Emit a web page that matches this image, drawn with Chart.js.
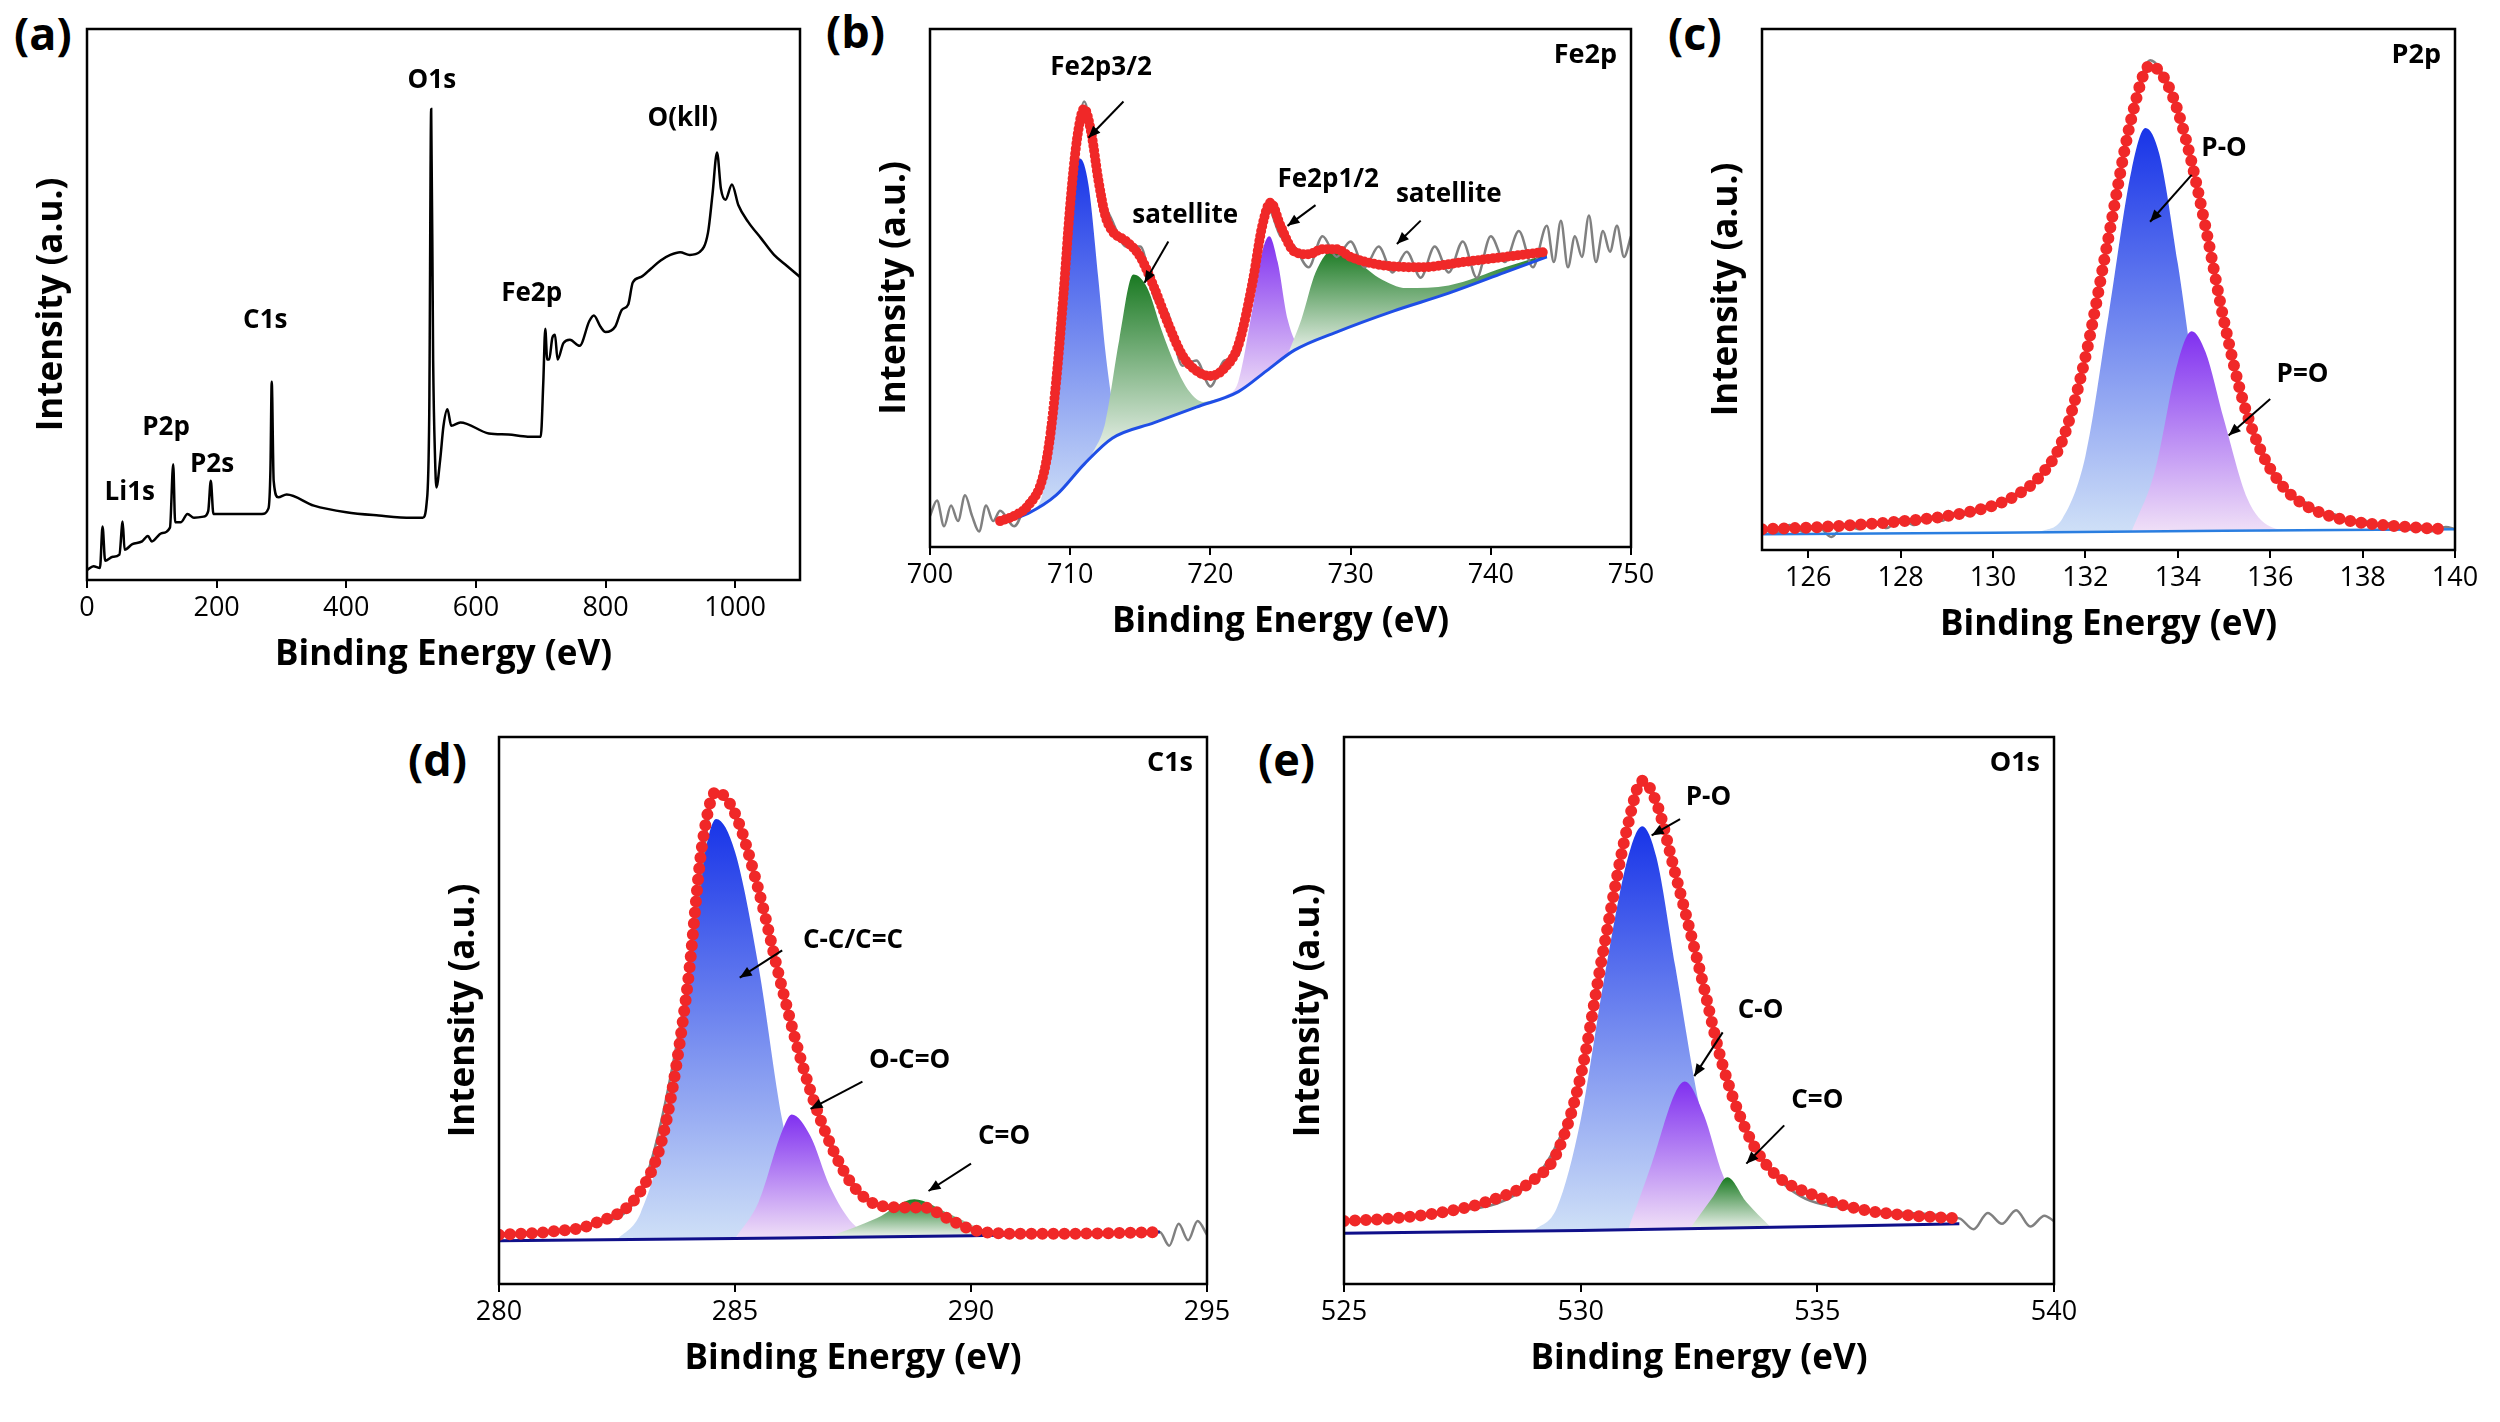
<!DOCTYPE html>
<html><head><meta charset="utf-8">
<script src="https://cdn.jsdelivr.net/npm/chart.js@4"></script>
<style>
body{margin:0;background:#fff;width:2500px;height:1422px;position:relative;overflow:hidden;font-family:"Open Sans",Arial,sans-serif}
canvas{position:absolute}
.lbl{position:absolute;font-weight:bold;font-size:45px;font-family:"Open Sans",Arial,sans-serif}
</style></head><body>
<div class="lbl" style="left:14px;top:2px">(a)</div>
<div class="lbl" style="left:826px;top:0px">(b)</div>
<div class="lbl" style="left:1668px;top:2px">(c)</div>
<div class="lbl" style="left:408px;top:728px">(d)</div>
<div class="lbl" style="left:1258px;top:728px">(e)</div>
<canvas id="ca"></canvas><canvas id="cb"></canvas><canvas id="cc"></canvas><canvas id="cd"></canvas><canvas id="ce"></canvas>
<script>
// ---------- data ----------
const ticksA=[0,200,400,600,800,1000];
const ticksB=[700,710,720,730,740,750];
const ticksC=[126,128,130,132,134,136,138,140];
const ticksD=[280,285,290,295];
const ticksE=[525,530,535,540];

const surveyA=[[0,1.8],[10,2.5],[20,2.2],[24,9.7],[28,3.5],[40,4.2],[50,4.6],[55,10.6],[58,5.5],[70,6.5],[85,7],[94,8],[100,7],[115,8.5],[128,9.5],[133,21],[136,10.5],[145,10.5],[155,12],[165,11.3],[180,11.5],[187,12.5],[191,18],[195,12],[205,12],[240,12],[270,12],[280,13],[283,20],[285,36],[288,18],[295,15],[308,15.5],[350,13.5],[400,12.3],[450,11.7],[500,11.3],[518,11.3],[524,14],[528,30],[531,85.5],[534,40],[537,22],[539,16.8],[545,22],[550,28],[556,31],[562,28],[576,28.6],[620,26.6],[650,26.4],[680,26],[700,26],[704,36],[707,45.6],[710,40],[713,40],[718,44],[722,44.5],[726,40],[735,43],[745,43.6],[760,42.5],[775,47],[782,48],[792,46],[800,45],[815,46],[825,49],[835,50],[842,54],[855,55],[870,56.5],[885,58],[900,59],[915,59.5],[930,59],[945,59.5],[958,63],[965,70],[972,77.6],[978,71],[985,69],[995,71.8],[1005,68],[1020,65],[1040,62],[1060,59],[1080,57],[1100,55]];

const baseB=[[705,4.6],[707,6.5],[709,10],[711,16],[713,21],[716,24],[719,27],[722,30],[724,34],[726,38],[729,41.5],[733,45.5],[737,49],[741,53],[744,56]];
const fitB=[[705,5],[706,6],[707,8],[708,13],[708.5,20],[709,32],[709.5,48],[710,66],[710.5,79],[711,84.6],[711.5,80],[712,71],[712.5,64],[713,61],[714,59],[715,56],[716,50],[717,43],[718,37],[719,34],[720,33],[721,34.5],[722,39],[723,51],[723.7,62],[724.3,66.5],[725,62],[726,57],[727,56.5],[728,57.5],[729,57.5],[730,56],[732,54.5],[735,54],[738,55],[741,56],[744,57]];
const rawB=[[700,6],[700.5,9],[701,4],[701.5,8],[702,5],[702.5,10],[703,6],[703.5,3],[704,8],[704.5,5],[705,7],[706,4],[707,9],[708,12],[709,33],[710,64],[711,86],[712,70],[713,63],[714,58],[715,58],[716,48],[717,45],[718,35],[719,36],[720,31],[721,36],[722,37],[723,53],[724,66],[725,60],[726,58],[727,54],[728,60],[729,56],[730,59],[731,54],[732,58],[733,53],[734,57],[735,52],[736,58],[737,53],[738,59],[739,52],[740,60],[741,55],[742,61],[743,54],[744,62],[744.5,55],[745,63],[745.5,54],[746,60],[746.5,56],[747,64],[747.5,55],[748,61],[748.5,57],[749,62],[749.5,56],[750,60]];
const b32=[[707,6.5],[708,10],[709,32],[709.5,50],[710,68],[710.7,75],[711.3,70],[712,52],[712.5,38],[713,28],[713.5,23],[714,22]];
const bSat1=[[711.5,17.5],[712.5,24],[713.5,40],[714.5,52.6],[715.5,50],[716.5,42],[717.5,35],[718.5,30],[719.5,28],[720.5,28.5]];
const b12=[[721,29],[722,32],[723,46],[723.7,57],[724.2,60],[724.8,55],[725.5,44],[726.5,38.5],[727,39.5]];
const bSat2=[[725.5,37],[726.5,44],[727.5,53],[728.8,57.5],[730,56],[731,54],[732,52],[734,50],[737,50.5],[741,54],[744,56.5]];

const baseC=[[125,3],[130,3.3],[135,3.7],[140,4]];
const fitC=[[125,4],[126,4.3],[127,4.8],[128,5.5],[129,6.5],[130,8.5],[130.5,10.5],[131,14],[131.5,21],[132,37],[132.5,60],[133,83],[133.4,93],[133.8,89],[134.2,78],[134.6,62],[135,44],[135.4,29],[135.8,19],[136.2,13],[136.6,9.5],[137,7.5],[137.5,6],[138,5.2],[139,4.4],[139.8,4]];
const rawC=[[125,4],[125.3,3.2],[125.6,4.8],[125.9,3.5],[126.2,4.6],[126.5,2.5],[126.8,5],[127.1,4],[127.4,5.5],[127.7,4.2],[128,6],[128.3,4.8],[128.6,6.5],[128.9,5.6],[129.2,7.2],[129.5,6.6],[129.8,8.4],[130.1,8.5],[130.4,10.5],[130.7,11.5],[131,14],[131.5,21],[132,37],[132.5,60],[133,83],[133.4,94],[133.8,89],[134.2,78],[134.6,62],[135,44],[135.4,29],[135.8,19],[136.2,13.5],[136.5,10],[136.8,9],[137.1,7.2],[137.4,6.8],[137.7,5.4],[138,5.8],[138.3,4.6],[138.6,5.2],[138.9,4],[139.2,4.8],[139.5,3.6],[139.8,4.4],[140,4]];
const cPO=[[131,3.4],[131.5,6],[132,18],[132.5,45],[133,73],[133.3,81],[133.6,76],[134,55],[134.5,25],[135,8],[135.5,4],[136,3.5]];
const cPdO=[[133,3.5],[133.5,15],[134,36],[134.3,42],[134.6,38],[135,25],[135.5,10],[136,4.5],[136.5,3.7]];

const baseD=[[280,7.9],[285,8.3],[290,8.8],[294,9.5]];
const fitD=[[280,9],[281,9.5],[282,11],[283,17],[283.5,28],[284,55],[284.3,80],[284.6,90],[285,86],[285.5,72],[286,54],[286.5,38],[287,26],[287.5,18],[288,14.5],[288.5,14],[289,14],[289.5,12],[290,10],[291,9.2],[292,9.2],[293,9.3],[294,9.5]];
const rawD=[[280,9],[282,11],[283,17],[284,55],[284.6,90],[285.5,72],[286.5,38],[288,14.5],[289,14],[290,10],[291,9.2],[293,9.3],[294,9.5],[294.2,7],[294.4,11],[294.6,8],[294.8,11.5],[295,9]];
const dCC=[[282.5,8.1],[283,13],[283.5,28],[284,58],[284.3,76],[284.6,85],[285,79],[285.5,58],[286,30],[286.5,13],[287,8.6]];
const dOCO=[[285,8.3],[285.5,15],[286,28],[286.2,31],[286.6,27],[287,18],[287.5,11],[288,8.7]];
const dCO=[[287,8.6],[288,12],[288.8,15.5],[289.5,13],[290.5,9.3],[291,9]];

const baseE=[[525,9.3],[530,9.8],[535,10.5],[538,11]];
const fitE=[[525,11.5],[526,12],[527,13],[528,15],[529,19],[529.5,24],[530,38],[530.5,62],[531,84],[531.3,92],[531.6,88],[532,75],[532.5,58],[533,40],[533.5,28],[534,21],[535,16],[536,13.5],[537,12.5],[538,12]];
const rawE=[[525,11.5],[527,13],[529,19],[530,38],[531,84],[531.3,92],[532,75],[533,40],[534,21],[536,13.5],[538,12],[538.3,10],[538.6,13],[538.9,11],[539.2,13.5],[539.5,10.5],[539.8,12.5],[540,11.5]];
const ePO=[[529,9.7],[529.5,14],[530,30],[530.5,56],[531,78],[531.3,83.7],[531.6,78],[532,58],[532.5,33],[533,16],[533.5,11],[534,10.3]];
const eCO=[[531,9.9],[531.5,22],[532,35],[532.2,37],[532.6,31],[533,20],[533.5,12],[534,10.4]];
const eCdO=[[532.3,10],[532.8,16],[533.1,19.5],[533.5,15],[534,10.5]];

// annotation texts: [text, tx, ty, ax1, ay1, ax2, ay2]
const annA=[["Li1s",66,15.9],["P2p",122,27.7],["P2s",193,21],["C1s",275,47],["O1s",532,90.7],["Fe2p",686,52],["O(kll)",919,83.7]];
const annB=[["Fe2p3/2",712.2,92.6,713.8,86,711.3,79],["satellite",718.2,64,717,59,715.3,51],["Fe2p1/2",728.4,71,727.5,66,725.5,62],["satellite",737,68,735,63,733.3,58.5]];
const annC=[["P-O",135.0,77,134.3,72,133.4,63],["P=O",136.7,33.6,136.0,29,135.1,22]];
const annD=[["C-C/C=C",287.5,62.7,286,61,285.1,56],["O-C=O",288.7,40.8,287.7,37,286.6,32],["C=O",290.7,27,290,22,289.1,17]];
const annE=[["P-O",532.7,89,532.1,85,531.5,82],["C-O",533.8,50,533,46,532.4,38],["C=O",535,33.5,534.3,29,533.5,22]];

// ---------- helpers ----------
const pts=a=>a.map(p=>({x:p[0],y:p[1]}));
const FONT='"Open Sans", Arial, sans-serif';
const grads={blue:['#1834e8','#cfe0f7'],purple:['#8030f0','#f0e0f7'],green:['#1a7a22','#eef3ee']};
function comp(data,col,ord){
  return {data:pts(data),borderWidth:0,pointRadius:0,tension:0.4,cubicInterpolationMode:'monotone',fill:0,order:ord,
    backgroundColor:(ctx)=>{const ch=ctx.chart,a=ch.chartArea;if(!a)return grads[col][0];
      const ys=data.map(p=>p[1]);const y=ch.scales.y;
      const g=ch.ctx.createLinearGradient(0,y.getPixelForValue(Math.max(...ys)),0,y.getPixelForValue(Math.min(...ys)));
      g.addColorStop(0,grads[col][0]);g.addColorStop(1,grads[col][1]);return g;}};
}
function line(data,color,w,order,extra){return Object.assign({data:pts(data),borderColor:color,borderWidth:w,pointRadius:0,fill:false,tension:0.4,cubicInterpolationMode:'monotone',order:order},extra||{});}
function fitLine(data,dense){return line(data,'#f02828',dense?10:12,1,{borderDash:dense?[0,5]:[0,11],borderCapStyle:'round'});}

const annPlugin={id:'ann',afterDraw(ch){
  const o=ch.options.plugins.ann, c=ch.ctx, a=ch.chartArea, X=ch.scales.x, Y=ch.scales.y;
  c.save();
  c.strokeStyle='#000';c.lineWidth=2.5;c.strokeRect(a.left,a.top,a.right-a.left,a.bottom-a.top);
  c.fillStyle='#000';c.font='bold 26px '+FONT;c.textAlign='center';c.textBaseline='middle';
  (o.items||[]).forEach(t=>{
    c.fillText(t[0],X.getPixelForValue(t[1]),Y.getPixelForValue(t[2]));
    if(t.length>3){const x1=X.getPixelForValue(t[3]),y1=Y.getPixelForValue(t[4]),x2=X.getPixelForValue(t[5]),y2=Y.getPixelForValue(t[6]);
      c.lineWidth=2;c.beginPath();c.moveTo(x1,y1);c.lineTo(x2,y2);c.stroke();
      const ang=Math.atan2(y2-y1,x2-x1),L=13;
      c.beginPath();c.moveTo(x2,y2);c.lineTo(x2-L*Math.cos(ang-0.4),y2-L*Math.sin(ang-0.4));c.lineTo(x2-L*Math.cos(ang+0.4),y2-L*Math.sin(ang+0.4));c.closePath();c.fill();}
  });
  if(o.title){c.textAlign='right';c.font='bold 27px '+FONT;c.fillText(o.title,a.right-14,a.top+26);}
  c.restore();}};

function panel(id,L,T,R,B,xmin,xmax,ticks,datasets,items,title){
  const cv=document.getElementById(id);
  const W=R-L+60+50,H=B-T+10+100;
  cv.width=W;cv.height=H;cv.style.left=(L-60)+'px';cv.style.top=(T-10)+'px';
  new Chart(cv,{type:'line',data:{datasets},plugins:[annPlugin],
    options:{responsive:false,devicePixelRatio:1,animation:false,parsing:true,
      layout:{padding:{top:10,right:50,left:0,bottom:0}},
      plugins:{legend:{display:false},tooltip:{enabled:false},ann:{items,title}},
      scales:{
        x:{type:'linear',min:xmin,max:xmax,afterFit:s=>{s.height=100;},
          afterBuildTicks:s=>{s.ticks=ticks.map(v=>({value:v}));},
          grid:{display:true,drawOnChartArea:false,tickLength:8,color:'#000',lineWidth:2},border:{display:false},
          ticks:{color:'#000',font:{size:27,family:FONT},padding:4,maxRotation:0,callback:v=>String(v)},
          title:{display:true,text:'Binding Energy (eV)',color:'#000',font:{size:35,weight:'bold',family:FONT},padding:{top:0,bottom:4}}},
        y:{min:0,max:100,afterFit:s=>{s.width=60;},grid:{display:false},border:{display:false},ticks:{display:false},
          title:{display:true,text:'Intensity (a.u.)',color:'#000',font:{size:35,weight:'bold',family:FONT},padding:{top:4,bottom:0}}}
      }}});
}

panel('ca',87,29,800,580,0,1100,ticksA,[line(surveyA,'#000',2.5,1,{tension:0})],annA,null);
panel('cb',930,29,1631,547,700,750,ticksB,[
  line(baseB,'#1f4ee6',3,3),comp(b32,'blue',9),comp(bSat1,'green',8),comp(b12,'purple',7),comp(bSat2,'green',6),
  line(rawB,'#808080',2.5,4,{tension:0}),fitLine(fitB,true)],annB,'Fe2p');
panel('cc',1762,29,2455,550,125,140,ticksC,[
  line(baseC,'#2a7ee0',2.5,3),comp(cPO,'blue',9),comp(cPdO,'purple',8),
  line(rawC,'#808080',2.5,4,{tension:0}),fitLine(fitC,false)],annC,'P2p');
panel('cd',499,737,1207,1284,280,295,ticksD,[
  line(baseD,'#10108a',3,3),comp(dCC,'blue',9),comp(dOCO,'purple',8),comp(dCO,'green',7),
  line(rawD,'#808080',2.5,4,{tension:0}),fitLine(fitD,false)],annD,'C1s');
panel('ce',1344,737,2054,1284,525,540,ticksE,[
  line(baseE,'#10108a',3,3),comp(ePO,'blue',9),comp(eCO,'purple',8),comp(eCdO,'green',7),
  line(rawE,'#808080',2.5,4,{tension:0}),fitLine(fitE,false)],annE,'O1s');
</script></body></html>
